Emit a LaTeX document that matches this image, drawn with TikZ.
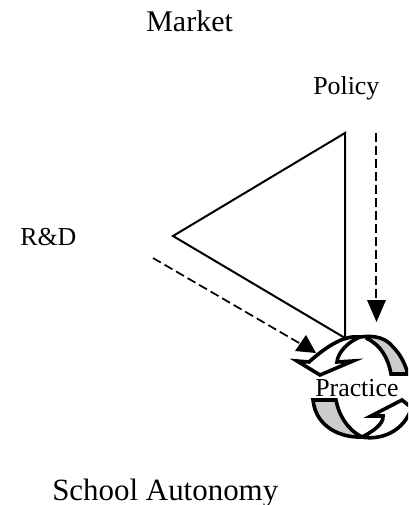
\documentclass[tikz,border=0pt]{standalone}
\usepackage{fontspec}
\setmainfont{Liberation Serif}
\usetikzlibrary{arrows.meta}
\tikzset{
  px/.style={x=0.75pt,y=-0.75pt},
  lab/.style={inner sep=0pt,anchor=base west},
  biglab/.style={lab,font=\fontsize{22.5pt}{26pt}\selectfont},
  widelab/.style={lab,font=\fontsize{23.2pt}{27pt}\selectfont},
  smalllab/.style={lab,font=\fontsize{19.4pt}{23pt}\selectfont},
  solidline/.style={line width=1.5pt,line join=miter},
  vdash/.style={line width=1.3pt,dash pattern=on 6.5pt off 3.25pt},
  ddash/.style={line width=1.3pt,dash pattern=on 6.8pt off 3.2pt},
  headfill/.style={fill=black,draw=none},
  band/.style={draw=black,line width=2.7pt,fill=black!20,line join=miter},
  turn/.style={draw=black,line width=2.7pt,fill=white,line join=miter}
}
\begin{document}
\begin{tikzpicture}[px]
\useasboundingbox (0,0) rectangle (408,505);
\clip (0,0) rectangle (408,505);
\coordinate (apex) at (345,133);
\coordinate (left) at (173,236);
\coordinate (base) at (345,338);
\coordinate (pstart) at (376,133);
\coordinate (pend) at (376,301);
\coordinate (ptip) at (376.5,322);
\coordinate (rstart) at (153,258);
\coordinate (rend) at (300,343.5);
\coordinate (rtip) at (316,353);
\draw[solidline] (apex) -- (left) -- (base) -- cycle;
\draw[vdash] (pstart) -- (pend);
\fill[headfill] (ptip) -- (367,300) -- (386,300) -- cycle;
\draw[ddash] (rstart) -- (rend);
\fill[headfill] (rtip) -- (295,351) -- (306,335) -- cycle;
% upper band and arrow
\draw[band] (360,337) .. controls (375,335) and (386,338) .. (393,347) .. controls (401,355) and (405,364) .. (408,374) -- (391,374) .. controls (388,358) and (381,345) .. (366,338);
\draw[turn] (360,337) .. controls (345,335) and (328,345) .. (309,362) -- (297,361) -- (320,375) -- (353,361) -- (337,362) .. controls (338,352) and (348,342) .. (360,337);
% lower band and arrow
\draw[band] (313,400) -- (336,400) .. controls (339,416) and (348,430) .. (362,437) .. controls (342,438) and (316,428) .. (313,400) -- cycle;
\draw[turn] (362,437) .. controls (378,440) and (398,434) .. (408,416) -- (412,408) -- (402,400) -- (371,416) -- (383,416) .. controls (384,424) and (372,432) .. (362,437) -- cycle;
% labels
\node[biglab] (market) at (146,32) {Market};
\node[smalllab] (policy) at (313,95) {Policy};
\node[smalllab] (rd) at (20,246) {R\&D};
\node[smalllab] (practice) at (315,396) {Practice};
\node[widelab] (school) at (52,500) {School Autonomy};
\end{tikzpicture}
\end{document}
